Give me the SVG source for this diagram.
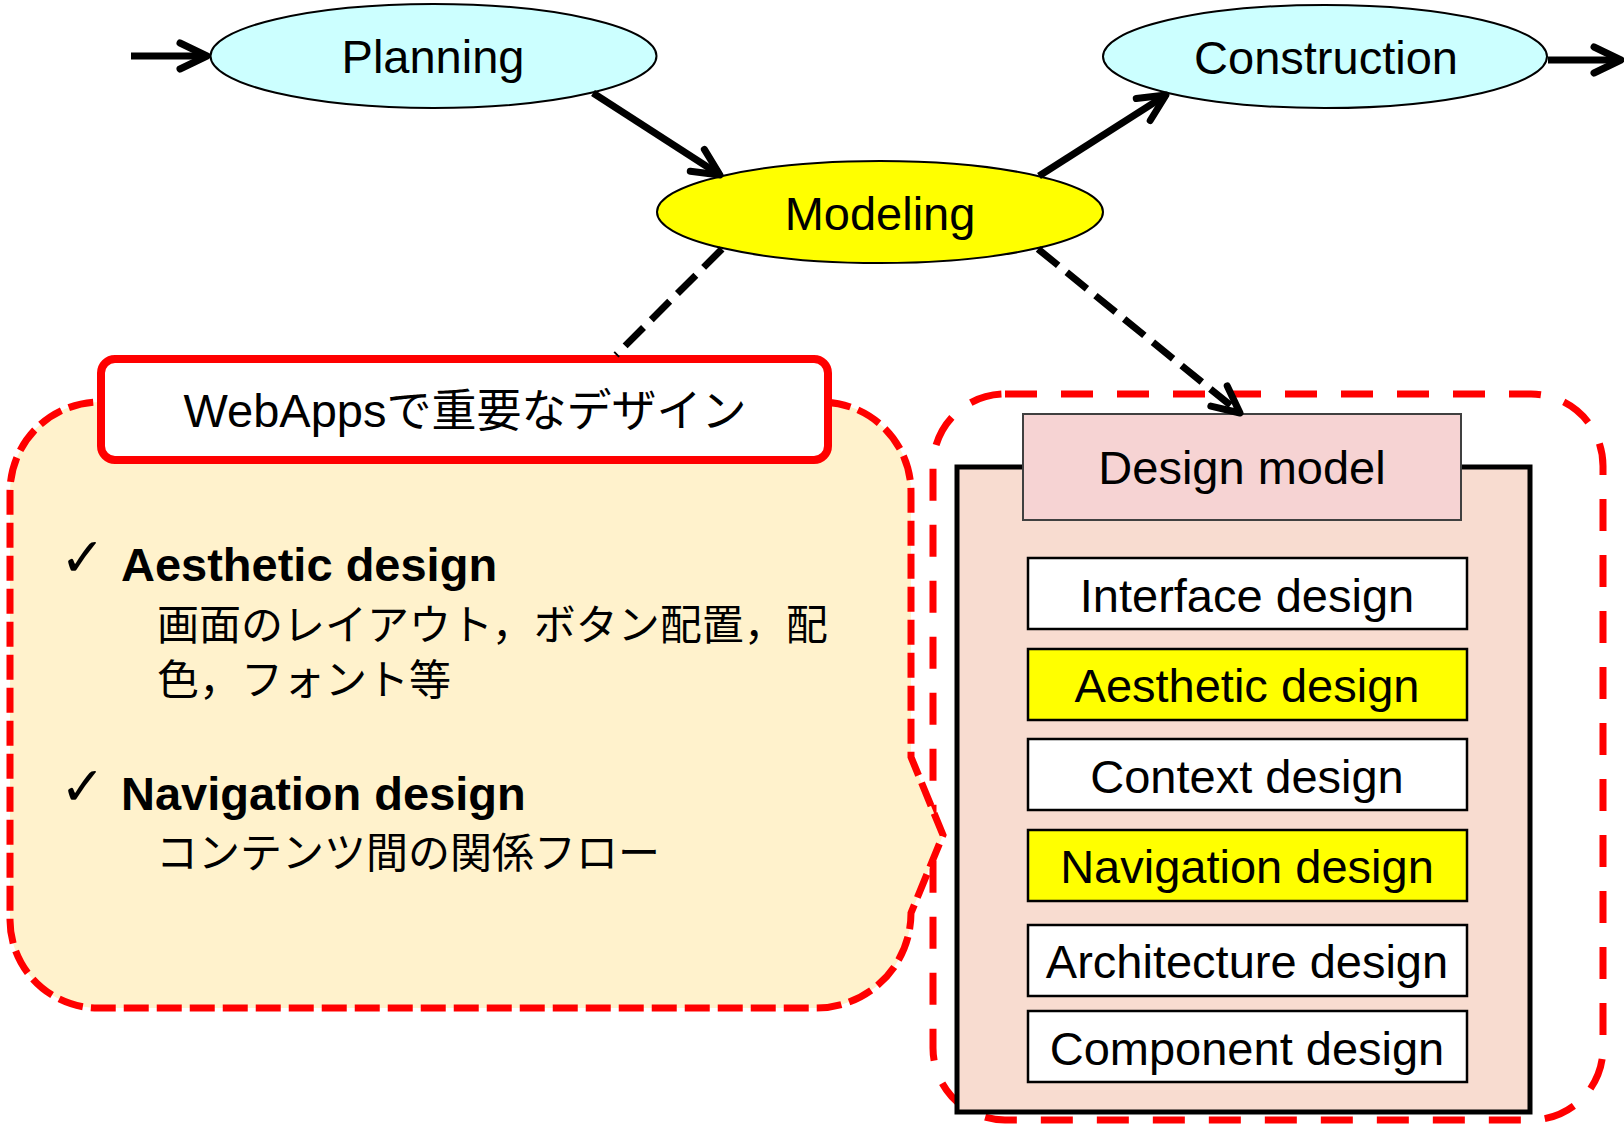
<svg xmlns="http://www.w3.org/2000/svg" width="1624" height="1124" viewBox="0 0 1624 1124">
<defs>
<style>
.lat{font-family:"Liberation Sans",Arial,sans-serif;font-size:47px;fill:#000}
.jp{font-family:"Liberation Sans","Noto Sans CJK JP",sans-serif;font-size:42px;fill:#000}
.bold{font-weight:bold}
.ell{fill:#CCFFFF;stroke:#000;stroke-width:2}
.item{stroke:#000;stroke-width:2.5}
.conn{fill:none;stroke:#000;stroke-width:7}
.dash{stroke-dasharray:26 11;stroke-width:7}
.chk{font-family:"DejaVu Sans",sans-serif;font-size:54px;fill:#000}
</style>
<marker id="arr" viewBox="-40 -20 50 40" refX="0" refY="0" markerWidth="50" markerHeight="40" markerUnits="userSpaceOnUse" orient="auto" overflow="visible">
<path d="M -27,-13 L 0,0 L -27,13" fill="none" stroke="#000" stroke-width="7" stroke-linecap="round" stroke-linejoin="round" stroke-dasharray="none"/>
</marker>
</defs>
<rect width="1624" height="1124" fill="#fff"/>

<g id="design-area">
<rect x="933" y="394" width="670" height="726" rx="72" ry="72" fill="none" stroke="#FF0000" stroke-width="7" stroke-dasharray="32 24"/>
</g>

<g id="callout">
<path d="M 100,402 L 821,402 A 90,90 0 0 1 911,492 L 911,757 L 943,835 L 911,913 A 95,95 0 0 1 816,1008 L 98,1008 A 88,88 0 0 1 10,920 L 10,492 A 90,90 0 0 1 100,402 Z" fill="#FFF2CC" stroke="#FF0000" stroke-width="7" stroke-dasharray="25 8"/>
<text class="chk" x="60" y="576">✓</text>
<text class="lat bold" x="121" y="581">Aesthetic design</text>
<text class="jp" x="157" y="640">画面のレイアウト，ボタン配置，配</text>
<text class="jp" x="157" y="695">色，フォント等</text>
<text class="chk" x="60" y="805">✓</text>
<text class="lat bold" x="121" y="810">Navigation design</text>
<text class="jp" x="156" y="868">コンテンツ間の関係フロー</text>
</g>

<g id="webapps-title">
<rect x="101" y="359" width="727" height="101" rx="14" ry="14" fill="#fff" stroke="#FF0000" stroke-width="8"/>
<text class="lat" x="465" y="427" text-anchor="middle">WebApps<tspan font-family="'Noto Sans CJK JP',sans-serif" font-size="45">で重要なデザイン</tspan></text>
</g>

<g id="design-model">
<rect x="957" y="467" width="573" height="645" fill="#F8DCD0" stroke="#000" stroke-width="5"/>
<rect x="1023" y="414" width="438" height="106" fill="#F6D3D3" stroke="#404040" stroke-width="2"/>
<text class="lat" x="1242" y="484" text-anchor="middle">Design model</text>
</g>

<g id="interface-design">
<rect class="item" x="1028" y="558" width="439" height="71" fill="#fff"/>
<text class="lat" x="1247" y="612" text-anchor="middle">Interface design</text>
</g>
<g id="aesthetic-design">
<rect class="item" x="1028" y="649" width="439" height="71" fill="#FFFF00"/>
<text class="lat" x="1247" y="702" text-anchor="middle">Aesthetic design</text>
</g>
<g id="context-design">
<rect class="item" x="1028" y="739" width="439" height="71" fill="#fff"/>
<text class="lat" x="1247" y="793" text-anchor="middle">Context design</text>
</g>
<g id="navigation-design">
<rect class="item" x="1028" y="830" width="439" height="71" fill="#FFFF00"/>
<text class="lat" x="1247" y="883" text-anchor="middle">Navigation design</text>
</g>
<g id="architecture-design">
<rect class="item" x="1028" y="925" width="439" height="71" fill="#fff"/>
<text class="lat" x="1247" y="978" text-anchor="middle">Architecture design</text>
</g>
<g id="component-design">
<rect class="item" x="1028" y="1011" width="439" height="71" fill="#fff"/>
<text class="lat" x="1247" y="1065" text-anchor="middle">Component design</text>
</g>

<g id="planning">
<ellipse class="ell" cx="433.5" cy="56" rx="223" ry="52"/>
<text class="lat" x="433" y="73" text-anchor="middle">Planning</text>
</g>
<g id="modeling">
<ellipse cx="880" cy="212" rx="223" ry="51" fill="#FFFF00" stroke="#000" stroke-width="2"/>
<text class="lat" x="880" y="230" text-anchor="middle">Modeling</text>
</g>
<g id="construction">
<ellipse class="ell" cx="1325" cy="56.5" rx="222" ry="51.5"/>
<text class="lat" x="1326" y="74" text-anchor="middle">Construction</text>
</g>

<g id="connectors">
<line class="conn" x1="131" y1="56" x2="207" y2="56" marker-end="url(#arr)"/>
<line class="conn" x1="593" y1="93" x2="720" y2="175" marker-end="url(#arr)"/>
<line class="conn" x1="1039" y1="176" x2="1166" y2="95" marker-end="url(#arr)"/>
<line class="conn" x1="1548" y1="60" x2="1621" y2="60" marker-end="url(#arr)"/>
<line class="conn dash" x1="722" y1="249" x2="616" y2="355"/>
<line class="conn dash" x1="1038" y1="249" x2="1240" y2="413" marker-end="url(#arr)"/>
</g>
</svg>
